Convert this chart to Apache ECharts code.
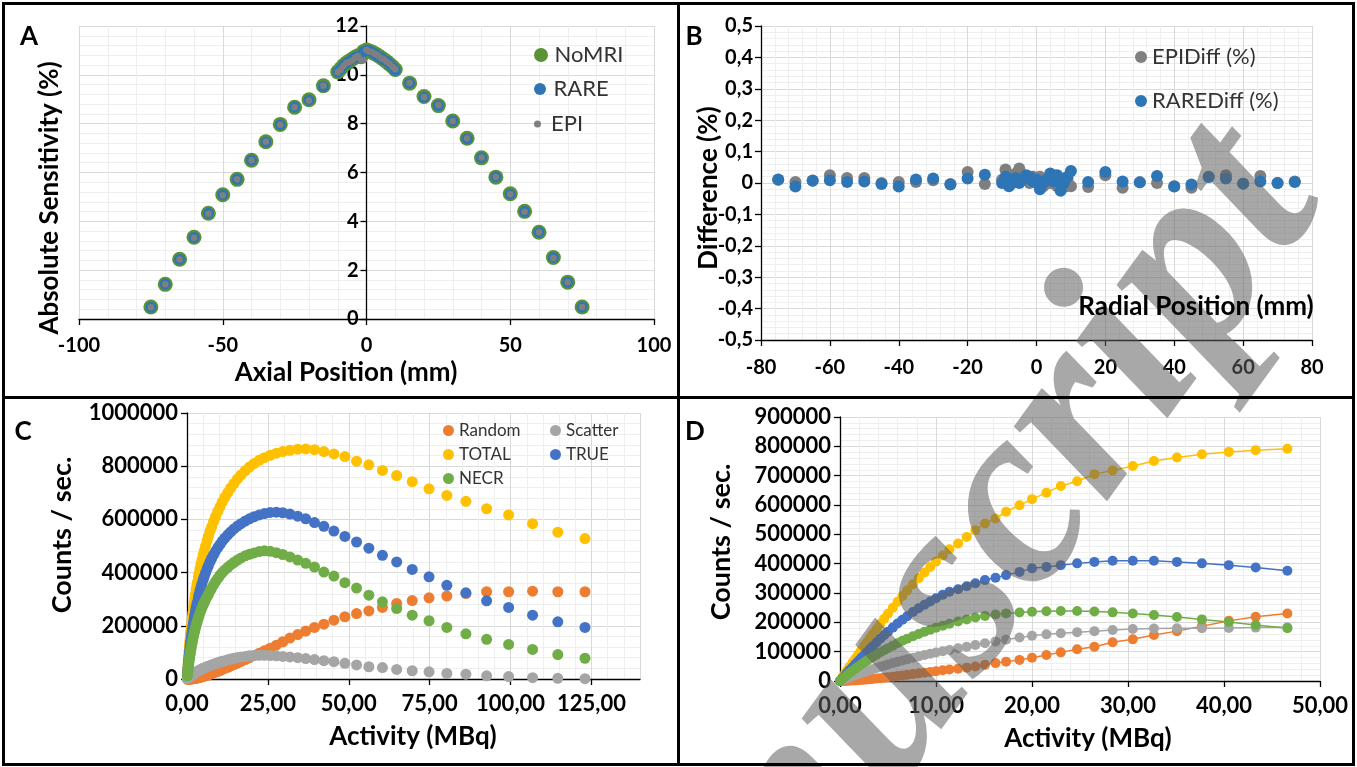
<!DOCTYPE html>
<html>
<head>
<meta charset="utf-8">
<script src="https://cdn.jsdelivr.net/npm/echarts@6/dist/echarts.min.js"></script>
<style>
  html, body { margin: 0; padding: 0; background: #fff; }
  #chart { width: 1357px; height: 767px; }
</style>
</head>
<body>
<div id="chart"></div>
<script>
// source positions (mm), shared by panels A and B
const POS_MM = [-75, -70, -65, -60, -55, -50, -45, -40, -35, -30, -25, -20, -15,
  -10, -9, -8, -7, -6, -5, -4, -3, -2, -1, 0, 1, 2, 3, 4, 5, 6, 7, 8, 9, 10,
  15, 20, 25, 30, 35, 40, 45, 50, 55, 60, 65, 70, 75];

// A: absolute sensitivity (%)
const A_NOMRI = [0.49, 1.42, 2.45, 3.35, 4.33, 5.09, 5.72, 6.50, 7.26, 7.97, 8.67, 8.98, 9.55,
  10.12, 10.25, 10.38, 10.48, 10.56, 10.64, 10.72, 10.78, 10.74, 10.96,
  11.02, 10.98, 10.92, 10.86, 10.79, 10.71, 10.63, 10.54, 10.44, 10.34, 10.22,
  9.66, 9.11, 8.74, 8.11, 7.40, 6.60, 5.81, 5.13, 4.41, 3.55, 2.52, 1.51, 0.49];
const A_RARE = [0.48, 1.43, 2.44, 3.34, 4.33, 5.09, 5.72, 6.51, 7.25, 7.96, 8.68, 8.97, 9.52,
  10.12, 10.23, 10.39, 10.47, 10.55, 10.64, 10.71, 10.76, 10.72, 10.96,
  11.01, 11.00, 10.92, 10.85, 10.76, 10.71, 10.61, 10.56, 10.44, 10.32, 10.18,
  9.66, 9.08, 8.74, 8.11, 7.38, 6.61, 5.82, 5.11, 4.40, 3.55, 2.52, 1.51, 0.49];
const A_EPI = [0.48, 1.42, 2.44, 3.33, 4.31, 5.07, 5.72, 6.50, 7.26, 7.96, 8.67, 8.95, 9.55,
  10.11, 10.21, 10.36, 10.48, 10.53, 10.59, 10.70, 10.77, 10.62, 10.60,
  11.02, 10.96, 10.93, 10.85, 10.79, 10.69, 10.64, 10.55, 10.45, 10.33, 10.23,
  9.67, 9.09, 8.76, 8.11, 7.40, 6.61, 5.82, 5.11, 4.39, 3.55, 2.50, 1.51, 0.49];

// B: difference (%)
const B_EPI_DIFF = [0.010, 0.003, 0.008, 0.025, 0.016, 0.016, 0.000, 0.003, 0.003, 0.009, -0.003, 0.035, -0.003,
  0.010, 0.043, 0.020, 0.000, 0.030, 0.046, 0.020, 0.010, 0.000, 0.020,
  0.000, 0.020, -0.010, 0.010, 0.000, 0.020, -0.010, -0.015, -0.013, 0.010, -0.010,
  -0.013, 0.025, -0.015, 0.002, 0.000, -0.010, -0.015, 0.020, 0.025, -0.002, 0.022, 0.000, 0.005];
const B_RARE_DIFF = [0.011, -0.011, 0.007, 0.009, 0.003, 0.005, -0.003, -0.011, 0.011, 0.014, -0.005, 0.014, 0.026,
  0.000, 0.020, -0.010, 0.010, 0.015, 0.000, 0.010, 0.025, 0.020, 0.005,
  0.010, -0.020, 0.000, 0.010, 0.030, 0.005, 0.025, -0.025, 0.000, 0.020, 0.038,
  0.003, 0.035, 0.005, 0.002, 0.022, -0.011, -0.005, 0.019, 0.014, -0.002, 0.005, 0.000, 0.003];

// C: count rates vs activity (MBq)
const C_ACT = [0.1, 0.2, 0.3, 0.4, 0.5, 0.6, 0.7, 0.8, 0.9, 1.0, 1.1, 1.2,
  1.35, 1.5, 1.65, 1.8, 2.0, 2.2, 2.4, 2.6, 2.8, 3.0, 3.2,
  3.5, 3.7, 4.0, 4.3, 4.6, 5.0, 5.3, 5.7,
  6.2, 6.6, 7.1, 7.6, 8.2, 8.8, 9.5,
  10.2, 10.9, 11.7, 12.6, 13.5, 14.5, 15.6, 16.7, 18.0, 19.3,
  20.7, 22.3, 23.9, 25.7, 27.6, 29.6, 31.8, 34.2, 36.7, 39.4,
  42.3, 45.4, 48.8, 52.4, 56.2, 60.4, 64.8, 69.6, 74.8, 80.3,
  86.2, 92.6, 99.4, 106.8, 114.6, 123.0];
const C_RANDOM = [10, 20, 40, 70, 110, 160, 220, 300, 350, 400, 500, 600,
  750, 900, 1100, 1300, 1600, 1900, 2200, 2600, 3000, 3500, 4000,
  4600, 5200, 6000, 7000, 8000, 9500, 10500, 12000,
  14000, 16000, 18000, 20000, 23000, 26000, 29000,
  32000, 36000, 40000, 44000, 49000, 54000, 60000, 66000, 73000, 80000,
  88000, 97000, 106000, 116000, 127000, 140000, 154000, 167000, 180000, 194000,
  206000, 221000, 234000, 246000, 256000, 269000, 284000, 295000, 305000, 312000,
  321000, 328000, 328000, 330000, 328000, 328000];
const C_SCATTER = [1000, 2000, 3000, 4000, 5000, 6000, 7000, 8000, 9000, 10000, 11000, 12000,
  13000, 14500, 16000, 17000, 19000, 21000, 22500, 24000, 25500, 27000, 28500,
  30500, 32000, 34000, 36000, 37500, 40000, 41500, 43500,
  46000, 48000, 50000, 53000, 55500, 58000, 61000,
  64000, 66500, 69000, 72000, 75000, 78000, 80500, 83000, 85000, 87000,
  88500, 89000, 89000, 88000, 87000, 85000, 83000, 80000, 77000, 73000,
  69000, 65000, 59000, 53000, 46000, 43000, 36000, 31000, 27000, 21000,
  18000, 12000, 9000, 5000, 2500, 1000];
const C_TOTAL = [20000, 38000, 55000, 72000, 88000, 103000, 118000, 132000, 146000, 159000, 172000, 184000,
  201000, 217000, 233000, 248000, 267000, 285000, 302000, 318000, 334000, 349000, 363000,
  383000, 396000, 414000, 431000, 447000, 467000, 481000, 499000,
  520000, 536000, 555000, 572000, 592000, 610000, 630000,
  648000, 665000, 683000, 701000, 718000, 735000, 752000, 767000, 783000, 797000,
  810000, 822000, 832000, 841000, 849000, 855000, 860000, 864000, 865000, 862000,
  855000, 846000, 836000, 819000, 805000, 784000, 765000, 742000, 715000, 690000,
  668000, 640000, 617000, 584000, 552000, 528000];
const C_TRUE = [15000, 29000, 43000, 56000, 68000, 80000, 92000, 103000, 114000, 124000, 134000, 144000,
  158000, 171000, 184000, 196000, 211000, 226000, 240000, 253000, 266000, 278000, 289000,
  305000, 316000, 331000, 344000, 357000, 373000, 384000, 398000,
  414000, 426000, 440000, 453000, 467000, 480000, 494000,
  506000, 518000, 530000, 542000, 553000, 564000, 575000, 584000, 594000, 602000,
  610000, 617000, 622000, 626000, 627000, 625000, 620000, 612000, 602000, 588000,
  574000, 556000, 536000, 515000, 492000, 465000, 440000, 412000, 384000, 352000,
  324000, 294000, 269000, 240000, 215000, 194000];
const C_NECR = [12000, 23000, 34000, 44000, 54000, 63000, 72000, 81000, 89000, 97000, 105000, 112000,
  122000, 132000, 141000, 150000, 161000, 172000, 182000, 192000, 201000, 210000, 218000,
  230000, 237000, 248000, 258000, 267000, 279000, 287000, 297000,
  309000, 318000, 330000, 341000, 354000, 366000, 378000,
  390000, 400000, 410000, 420000, 429000, 438000, 447000, 455000, 463000, 469000,
  474000, 479000, 482000, 480000, 475000, 468000, 459000, 447000, 435000, 421000,
  402000, 387000, 362000, 342000, 315000, 290000, 265000, 240000, 219000, 194000,
  170000, 149000, 130000, 111000, 92000, 78000];

// D: count rates vs activity (MBq), second measurement
const D_ACT = [0, 0.25, 0.5, 0.75, 1.0, 1.3, 1.6, 1.9, 2.2, 2.5,
  2.8, 3.1, 3.4, 3.8, 4.2, 4.6, 5.0, 5.5, 6.0, 6.5,
  7.0, 7.6, 8.2, 8.8, 9.4, 10.0, 10.7, 11.4, 12.3, 13.2,
  14.1, 15.1, 16.2, 17.3, 18.7, 20.0, 21.5, 23.0, 24.7, 26.5,
  28.4, 30.5, 32.7, 35.1, 37.7, 40.5, 43.3, 46.6];
const D_RANDOM = [0, 100, 300, 600, 1000, 1500, 2100, 2800, 3500, 4300,
  5200, 6100, 7100, 8400, 9800, 11300, 12800, 14800, 16800, 18800,
  21000, 23500, 26000, 28500, 31000, 33500, 36500, 39000, 42000, 45500,
  49500, 55000, 61000, 66000, 72000, 79500, 88500, 97600, 108000, 117000,
  132000, 142000, 157000, 170000, 187000, 205000, 219000, 230000];
const D_SCATTER = [0, 3200, 6400, 9500, 12600, 16200, 19800, 23300, 26800, 30200,
  33500, 36800, 40000, 44200, 48300, 52300, 56200, 61000, 65600, 70000,
  74300, 79200, 84000, 88500, 92800, 97000, 101500, 106000, 111500, 117000,
  122500, 128500, 135000, 141000, 148000, 154000, 159000, 163000, 166500, 170000,
  174000, 177000, 179000, 180000, 180000, 180500, 182000, 183000];
const D_TOTAL = [0, 12500, 25000, 37000, 49000, 63000, 77000, 91000, 105000, 119000,
  132000, 146000, 160000, 177000, 195000, 212000, 229000, 250000, 270000, 290000,
  309000, 330000, 350000, 370000, 389000, 407000, 428000, 449000, 469000, 491000,
  514000, 537000, 554000, 577000, 599000, 620000, 642000, 665000, 681000, 705000,
  718000, 733000, 750000, 762000, 773000, 781000, 787000, 792000];
const D_TRUE = [0, 9500, 19000, 28000, 37000, 47000, 58000, 68000, 78000, 88000,
  98000, 108000, 118000, 131000, 144000, 156000, 168000, 182000, 196000, 209000,
  221000, 235000, 248000, 260000, 271000, 282000, 294000, 304000, 313000, 323000,
  333000, 344000, 352000, 361000, 372000, 384000, 389000, 395000, 401000, 406000,
  410000, 410000, 410000, 406000, 401000, 395000, 387000, 376000];
const D_NECR = [0, 7000, 14000, 20500, 27000, 34500, 42000, 49000, 56000, 63000,
  69500, 76000, 82000, 90000, 98000, 105000, 112000, 120500, 129000, 137000,
  144000, 152500, 160500, 168000, 175000, 181500, 188500, 195000, 203000, 210000,
  216500, 222000, 227000, 230500, 233500, 236000, 238000, 238500, 238500, 237000,
  234000, 230000, 225000, 218000, 210000, 201000, 191000, 180000];

// Excel-like colours
const GREEN_A = "#5b9236";
const BLUE_A = "#2e75b6";
const GREY_A = "#7f7f7f";
const ORANGE = "#ed7d31";
const LIGHT_GREY = "#a5a5a5";
const GOLD = "#ffc000";
const BLUE = "#4472c4";
const GREEN = "#70ad47";

const FONT = "Lato";
const zip = (xs, ys) => xs.map((x, i) => [x, ys[i]]);
const plain = (v) => String(v);
const comma = (d) => (v) => (Math.abs(v) < 1e-9 && d === 1 ? "0" : v.toFixed(d).replace(".", ","));

function valueAxis(o) {
  return {
    type: "value",
    gridIndex: o.grid,
    min: o.min,
    max: o.max,
    interval: o.interval,
    offset: o.offset || 0,
    axisLine: { show: true, onZero: false, lineStyle: { color: "#000", width: 1.3 } },
    axisTick: { show: true, length: 6, lineStyle: { color: "#000", width: 1.3 } },
    axisLabel: {
      fontFamily: FONT, fontWeight: "bold", fontSize: o.size || 20, color: "#000",
      margin: o.margin, formatter: o.fmt || plain,
      showMaxLabel: o.hideMax ? false : null,
    },
    splitLine: { show: true, lineStyle: { color: "#d9d9d9", width: 1 } },
    minorTick: { show: false, splitNumber: 5 },
    minorSplitLine: { show: true, lineStyle: { color: "#efefef", width: 1 } },
  };
}

function legend(name, left, top, size, fontSize, width) {
  return {
    data: [name], left, top, padding: 0, icon: "circle",
    itemWidth: width || size, itemHeight: size, selectedMode: false,
    textStyle: { fontFamily: FONT, fontSize, color: "#333" },
  };
}

function label(text, x, y, size, rot) {
  return {
    type: "text", x, y, rotation: rot || 0, z: 60, silent: true,
    style: {
      text, fill: "#000", font: "bold " + size + "px " + FONT,
      align: "center", verticalAlign: "middle", textAlign: "center", textVerticalAlign: "middle",
    },
  };
}

function box(x, y, w, h) {
  return {
    type: "rect", z: 70, silent: true,
    shape: { x, y, width: w, height: h },
    style: { fill: "none", stroke: "#000", lineWidth: 3 },
  };
}

function scatter(name, ax, xs, ys, size, color) {
  return {
    name, type: "scatter", xAxisIndex: ax, yAxisIndex: ax,
    data: zip(xs, ys), symbolSize: size, itemStyle: { color, opacity: 1 },
  };
}

function line(name, xs, ys, color) {
  return {
    name, type: "line", xAxisIndex: 3, yAxisIndex: 3,
    data: zip(xs, ys), symbol: "circle", symbolSize: 10, showAllSymbol: true,
    itemStyle: { color }, lineStyle: { color, width: 1.5 },
  };
}

const chart = echarts.init(document.getElementById("chart"));
const UP = Math.PI / 2;

chart.setOption({
  animation: false,
  backgroundColor: "#fff",
  textStyle: { fontFamily: FONT },
  grid: [
    { left: 79, top: 26, width: 575, height: 293 },
    { left: 761, top: 26, width: 551, height: 314 },
    { left: 187, top: 413, width: 453, height: 266 },
    { left: 840, top: 417, width: 480, height: 264 },
  ],
  xAxis: [
    valueAxis({ grid: 0, min: -100, max: 100, interval: 50, margin: 17 }),
    valueAxis({ grid: 1, min: -80, max: 80, interval: 20, margin: 18 }),
    valueAxis({ grid: 2, min: 0, max: 140, interval: 25, margin: 14, size: 22, fmt: comma(2), hideMax: true }),
    valueAxis({ grid: 3, min: 0, max: 50, interval: 10, margin: 14, size: 22, fmt: comma(2) }),
  ],
  yAxis: [
    // axis sits on x = 0
    valueAxis({ grid: 0, min: 0, max: 12, interval: 2, margin: 8, offset: -287.5 }),
    valueAxis({ grid: 1, min: -0.5, max: 0.5, interval: 0.1, margin: 8, size: 20, fmt: comma(1) }),
    valueAxis({ grid: 2, min: 0, max: 1000000, interval: 200000, margin: 9, size: 22 }),
    valueAxis({ grid: 3, min: 0, max: 900000, interval: 100000, margin: 9, size: 22 }),
  ],
  legend: [
    legend("NoMRI", 534, 44, 14, 22, 17),
    legend("RARE", 534, 78, 12, 22, 17),
    legend("EPI", 534, 113, 7, 22, 17),
    legend("EPIDiff (%)", 1135, 46, 12, 22),
    legend("RAREDiff (%)", 1135, 90, 12, 22),
    legend("Random", 443, 422, 11, 17),
    legend("Scatter", 550, 422, 11, 17),
    legend("TOTAL", 443, 446, 11, 17),
    legend("TRUE", 550, 446, 11, 17),
    legend("NECR", 443, 470, 11, 17),
  ],
  series: [
    scatter("NoMRI", 0, POS_MM, A_NOMRI, 15, GREEN_A),
    scatter("RARE", 0, POS_MM, A_RARE, 11, BLUE_A),
    scatter("EPI", 0, POS_MM, A_EPI, 6.5, GREY_A),

    scatter("EPIDiff (%)", 1, POS_MM, B_EPI_DIFF, 12, GREY_A),
    scatter("RAREDiff (%)", 1, POS_MM, B_RARE_DIFF, 12, BLUE_A),

    scatter("Random", 2, C_ACT, C_RANDOM, 11, ORANGE),
    scatter("Scatter", 2, C_ACT, C_SCATTER, 11, LIGHT_GREY),
    scatter("TOTAL", 2, C_ACT, C_TOTAL, 11, GOLD),
    scatter("TRUE", 2, C_ACT, C_TRUE, 11, BLUE),
    scatter("NECR", 2, C_ACT, C_NECR, 11, GREEN),

    line("Random D", D_ACT, D_RANDOM, ORANGE),
    line("Scatter D", D_ACT, D_SCATTER, LIGHT_GREY),
    line("TOTAL D", D_ACT, D_TOTAL, GOLD),
    line("TRUE D", D_ACT, D_TRUE, BLUE),
    line("NECR D", D_ACT, D_NECR, GREEN),
  ],
  graphic: {
    elements: [
      // watermark across B and D
      {
        type: "text", x: 557, y: 1144, rotation: 54 * Math.PI / 180, z: 50, silent: true,
        style: {
          text: "manuscript", font: 'italic bold 260px "Liberation Serif"',
          fill: "rgba(96,96,96,0.55)", align: "left", verticalAlign: "middle",
          textAlign: "left", textVerticalAlign: "middle",
        },
      },
      box(3.5, 3.5, 675, 394),
      box(678.5, 3.5, 675, 394),
      box(3.5, 397.5, 675, 367),
      box(678.5, 397.5, 675, 367),
      label("A", 29, 37, 26),
      label("B", 694, 37, 26),
      label("C", 23, 432, 26),
      label("D", 695, 432, 26),
      label("Axial Position (mm)", 346, 373, 26),
      label("Absolute Sensitivity (%)", 50, 198, 26, UP),
      label("Radial Position (mm)", 1196, 307, 26),
      label("Difference (%)", 709, 188, 26, UP),
      label("Activity (MBq)", 413, 737, 26),
      label("Counts / sec.", 62, 535, 27, UP),
      label("Activity (MBq)", 1088, 739, 26),
      label("Counts / sec.", 721, 542, 27, UP),
    ],
  },
});
</script>
</body>
</html>
